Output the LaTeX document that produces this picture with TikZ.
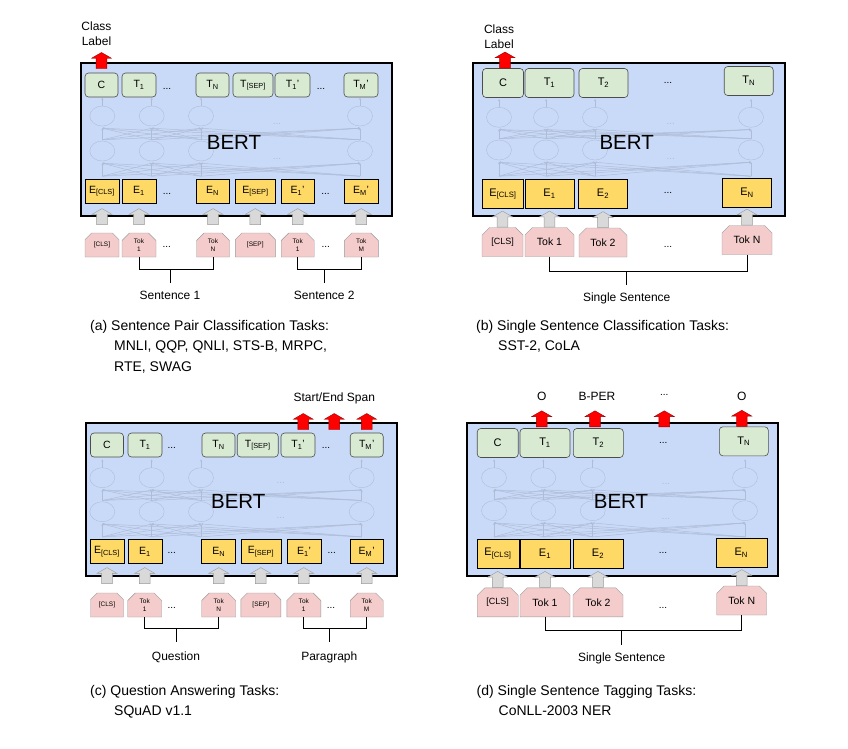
\documentclass[tikz,border=0pt]{standalone}
\usepackage{fontspec}
\setmainfont{Liberation Sans}
\usepackage{tikz}
\usetikzlibrary{positioning, arrows.meta, shapes.geometric, shapes.arrows, shapes.misc}

\definecolor{bertblue}{HTML}{C9DAF8}
\definecolor{outgreen}{HTML}{D9EAD3}
\definecolor{embyellow}{HTML}{FFD966}
\definecolor{tokpink}{HTML}{F4CCCC}
\definecolor{arrgray}{HTML}{D9D9D9}
\definecolor{netc}{HTML}{AEBCD8}

\begin{document}
\begin{tikzpicture}[
        x=1pt, y=-1pt, % pixel units, y pointing down
        >=Stealth,
        % Define node styles
        bertbox/.style={draw=black, line width=2.4pt, fill=bertblue, inner sep=0pt},
        berttext/.style={font=\fontsize{20.5}{24}\selectfont, inner sep=0pt},
        outnode/.style={draw=black!70, line width=0.6pt, fill=outgreen, rounded corners=3.5pt, minimum height=24pt, inner sep=0pt, font=\fontsize{10.5}{12}\selectfont},
        embnode/.style={draw=black, line width=0.6pt, fill=embyellow, minimum height=24pt, inner sep=0pt, font=\fontsize{10.5}{12}\selectfont},
        toknode/.style={chamfered rectangle, chamfered rectangle corners={north west,north east}, chamfered rectangle xsep=4pt, chamfered rectangle angle=45, draw=black!40, fill=tokpink, minimum height=24pt, inner sep=0pt, align=center, font=\fontsize{6.5}{7.5}\selectfont},
        tall/.style={minimum height=29pt, font=\fontsize{11}{13}\selectfont},
        uparrow/.style={single arrow, shape border rotate=90, draw=black!40, fill=arrgray, minimum height=16pt, minimum width=20pt, single arrow head extend=4.5pt, single arrow tip angle=120, inner sep=5pt},
        outarrow/.style={uparrow, draw=red!60!black, fill=red},
        dots/.style={font=\fontsize{10}{12}\selectfont, inner sep=0pt},
        lbl/.style={font=\fontsize{12}{15}\selectfont, inner sep=0pt, align=center},
        capt/.style={font=\fontsize{14}{20.5}\selectfont, inner sep=0pt, align=left, anchor=north west},
        netcirc/.style={draw=netc, ellipse, minimum width=25pt, minimum height=20pt, inner sep=0pt},
        netline/.style={draw=netc, line width=0.5pt, -{Stealth[length=2pt, width=2pt]}},
        netdots/.style={dots, text=netc},
        brkline/.style={draw=black, line width=0.8pt}
    ]
    \useasboundingbox (0,0) rectangle (848,748);

    % ================= (a) Sentence Pair Classification =================
    \node[bertbox, minimum width=311pt, minimum height=153pt] (bertA) at (236.5,139.5) {};

    % faint network
    \foreach \x [count=\i] in {102.3,151.7,201,360} {
        \node[netcirc] (aU\i) at (\x,116) {};
        \node[netcirc] (aL\i) at (\x,151) {};
    }
    \foreach \i in {1,...,4} {
        \draw[netline] (aU\i.north) -- ([yshift=8pt]aU\i.north);
        \foreach \j in {1,...,4} {
            \draw[netline] ([yshift=-15pt]aL\j.south) -- ([yshift=-2pt]aL\i.south);
            \draw[netline] ([yshift=1pt]aL\j.north) -- ([yshift=-2pt]aU\i.south);
        }
    }
    \node[netdots] (aND1) at (277,124) {...};
    \node[netdots] (aND2) at (277,159) {...};
    \node[berttext] (bertAtxt) at (234,142) {BERT};

    % outputs
    \node[outnode, minimum width=33pt] (outA_C) at (101.5,85) {C};
    \node[outnode, minimum width=34pt] (outA_1) at (139,85) {T\textsubscript{1}};
    \node[dots] (dotsA_T1) at (167,89) {...};
    \node[outnode, minimum width=33pt] (outA_N) at (212.5,85) {T\textsubscript{N}};
    \node[outnode, minimum width=40pt] (outA_S) at (253,85) {T\textsubscript{[SEP]}};
    \node[outnode, minimum width=35pt] (outA_1p) at (292.5,85) {T\textsubscript{1}'};
    \node[dots] (dotsA_T2) at (321,89) {...};
    \node[outnode, minimum width=34pt] (outA_Mp) at (361,85) {T\textsubscript{M}'};

    % embeddings
    \node[embnode, minimum width=34pt] (embA_C) at (102,191) {E\textsubscript{[CLS]}};
    \node[embnode, minimum width=34pt] (embA_1) at (139,191) {E\textsubscript{1}};
    \node[dots] (dotsA_E1) at (167,194.3) {...};
    \node[embnode, minimum width=33pt] (embA_N) at (212.5,191) {E\textsubscript{N}};
    \node[embnode, minimum width=40pt] (embA_S) at (255.5,191) {E\textsubscript{[SEP]}};
    \node[embnode, minimum width=33pt] (embA_1p) at (297.5,191) {E\textsubscript{1}'};
    \node[dots] (dotsA_E2) at (325.5,194.3) {...};
    \node[embnode, minimum width=34pt] (embA_Mp) at (361,191) {E\textsubscript{M}'};

    % input tokens
    \node[toknode, minimum width=34pt] (tokA_C) at (102,245) {[CLS]};
    \node[toknode, minimum width=34pt] (tokA_1) at (139,245) {Tok\\1};
    \node[dots] (dotsA_K1) at (166.7,247.3) {...};
    \node[toknode, minimum width=33pt] (tokA_N) at (213,245) {Tok\\N};
    \node[toknode, minimum width=40pt] (tokA_S) at (255.3,245) {[SEP]};
    \node[toknode, minimum width=33pt] (tokA_1p) at (297.7,245) {Tok\\1};
    \node[dots] (dotsA_K2) at (325.7,247.3) {...};
    \node[toknode, minimum width=34pt] (tokA_M) at (361.3,245) {Tok\\M};

    % input arrows
    \foreach \t in {C,1,N,S,1p,M}
        \node[uparrow, anchor=tail] (upA_\t) at ([yshift=8pt]tokA_\t.north) {};

    % class label
    \node[outarrow, anchor=tail] (clsA) at ([yshift=4pt]outA_C.north) {};
    \node[lbl, above=6pt of clsA.tip, xshift=-5pt] (clsAlbl) {Class\\Label};

    % sentence brackets
    \coordinate (barA1) at (170,269.3);
    \coordinate (barA2) at (324.3,269.3);
    \draw[brkline] (tokA_1.south) |- (barA1) -| (tokA_N.south);
    \draw[brkline] (tokA_1p.south) |- (barA2) -| (tokA_M.south);
    \node[lbl, below=22.1pt of barA1] (sentA1) {Sentence 1};
    \node[lbl, below=22.1pt of barA2] (sentA2) {Sentence 2};
    \draw[brkline] (barA1) -- ([yshift=8.7pt]sentA1.north);
    \draw[brkline] (barA2) -- ([yshift=8.7pt]sentA2.north);

    \node[capt] (captA) at (90,319.8) {(a) Sentence Pair Classification Tasks:\\\hspace*{24pt}MNLI, QQP, QNLI, STS-B, MRPC,\\\hspace*{24pt}RTE, SWAG};

    % ================= (b) Single Sentence Classification =================
    \node[bertbox, minimum width=312pt, minimum height=153pt] (bertB) at (629,139.5) {};

    % faint network
    \foreach \x [count=\i] in {499,546,595,751} {
        \node[netcirc] (bU\i) at (\x,117.3) {};
        \node[netcirc] (bL\i) at (\x,150) {};
    }
    \foreach \i in {1,...,4} {
        \draw[netline] (bU\i.north) -- ([yshift=8pt]bU\i.north);
        \foreach \j in {1,...,4} {
            \draw[netline] ([yshift=-16pt]bL\j.south) -- ([yshift=-2pt]bL\i.south);
            \draw[netline] ([yshift=1pt]bL\j.north) -- ([yshift=-2pt]bU\i.south);
        }
    }
    \node[netdots] (bND1) at (670.7,124) {...};
    \node[netdots] (bND2) at (670.7,159) {...};
    \node[berttext] (bertBtxt) at (626.7,142) {BERT};

    % outputs
    \node[outnode, tall, minimum width=41pt] (outB_C) at (503,83) {C};
    \node[outnode, tall, minimum width=49pt] (outB_1) at (549.5,83) {T\textsubscript{1}};
    \node[outnode, tall, minimum width=49pt] (outB_2) at (603.5,83) {T\textsubscript{2}};
    \node[dots] (dotsB_T) at (668,83) {...};
    \node[outnode, tall, minimum width=49pt] (outB_N) at (748.7,81) {T\textsubscript{N}};

    % embeddings
    \node[embnode, tall, minimum width=41pt] (embB_C) at (503,194) {E\textsubscript{[CLS]}};
    \node[embnode, tall, minimum width=49pt] (embB_1) at (549.5,194) {E\textsubscript{1}};
    \node[embnode, tall, minimum width=49pt] (embB_2) at (603,194) {E\textsubscript{2}};
    \node[dots] (dotsB_E) at (668,193.3) {...};
    \node[embnode, tall, minimum width=49pt] (embB_N) at (747,192.5) {E\textsubscript{N}};

    % input tokens
    \node[toknode, tall, minimum width=41pt, font=\fontsize{9}{11}\selectfont] (tokB_C) at (502.5,242) {[CLS]};
    \node[toknode, tall, minimum width=49pt, font=\fontsize{10.5}{12}\selectfont] (tokB_1) at (549.5,242) {Tok 1};
    \node[toknode, tall, minimum width=48pt, font=\fontsize{10.5}{12}\selectfont] (tokB_2) at (603,242.5) {Tok 2};
    \node[dots] (dotsB_K) at (668,247.3) {...};
    \node[toknode, tall, minimum width=50pt, font=\fontsize{10.5}{12}\selectfont] (tokB_N) at (747,240) {Tok N};

    % input arrows
    \foreach \t in {C,1,2,N}
        \node[uparrow, anchor=tail] (upB_\t) at (tokB_\t.north) {};

    % class label
    \node[outarrow, anchor=tail, xshift=2pt] (clsB) at (outB_C.north) {};
    \node[lbl, above=3pt of clsB.tip, xshift=-6pt] (clsBlbl) {Class\\Label};

    % sentence bracket
    \coordinate (barB) at (626.7,271.7);
    \draw[brkline] (tokB_1.south) |- (barB) -| (tokB_N.south);
    \node[lbl, below=20.7pt of barB] (sentB) {Single Sentence};
    \draw[brkline] (barB) -- ([yshift=7.4pt]sentB.north);

    \node[capt] (captB) at (476,319.8) {(b) Single Sentence Classification Tasks:\\\hspace*{22pt}SST-2, CoLA};

    % ================= (c) Question Answering =================
    \node[bertbox, minimum width=311pt, minimum height=153pt] (bertC) at (241.5,499.5) {};

    % faint network
    \foreach \x [count=\i] in {102.3,151.7,201,361.7} {
        \node[netcirc] (cU\i) at (\x,477.7) {};
        \node[netcirc] (cL\i) at (\x,511.7) {};
    }
    \foreach \i in {1,...,4} {
        \draw[netline] (cU\i.north) -- ([yshift=8pt]cU\i.north);
        \foreach \j in {1,...,4} {
            \draw[netline] ([yshift=-15pt]cL\j.south) -- ([yshift=-2pt]cL\i.south);
            \draw[netline] ([yshift=1pt]cL\j.north) -- ([yshift=-2pt]cU\i.south);
        }
    }
    \node[netdots] (cND1) at (280.7,483.3) {...};
    \node[netdots] (cND2) at (280.7,518.3) {...};
    \node[berttext] (bertCtxt) at (238.3,501.7) {BERT};

    % outputs
    \node[outnode, minimum width=33pt] (outC_C) at (107,445) {C};
    \node[outnode, minimum width=34pt] (outC_1) at (145,445) {T\textsubscript{1}};
    \node[dots] (dotsC_T1) at (171.7,448.3) {...};
    \node[outnode, minimum width=33pt] (outC_N) at (218.5,445) {T\textsubscript{N}};
    \node[outnode, minimum width=41pt] (outC_S) at (257.7,445) {T\textsubscript{[SEP]}};
    \node[outnode, minimum width=34pt] (outC_1p) at (298,445) {T\textsubscript{1}'};
    \node[dots] (dotsC_T2) at (326,448.3) {...};
    \node[outnode, minimum width=33pt] (outC_Mp) at (366.7,445) {T\textsubscript{M}'};

    % embeddings
    \node[embnode, minimum width=34pt] (embC_C) at (107,551.7) {E\textsubscript{[CLS]}};
    \node[embnode, minimum width=34pt] (embC_1) at (145,551.7) {E\textsubscript{1}};
    \node[dots] (dotsC_E1) at (171.7,553.3) {...};
    \node[embnode, minimum width=34pt] (embC_N) at (218.7,551.7) {E\textsubscript{N}};
    \node[embnode, minimum width=40pt] (embC_S) at (261,551.7) {E\textsubscript{[SEP]}};
    \node[embnode, minimum width=34pt] (embC_1p) at (304,551.7) {E\textsubscript{1}'};
    \node[dots] (dotsC_E2) at (331.7,553.3) {...};
    \node[embnode, minimum width=33pt] (embC_Mp) at (366.7,551.7) {E\textsubscript{M}'};

    % input tokens
    \node[toknode, minimum width=33pt] (tokC_C) at (107,605) {[CLS]};
    \node[toknode, minimum width=34pt] (tokC_1) at (144.7,605) {Tok\\1};
    \node[dots] (dotsC_K1) at (171.7,607.7) {...};
    \node[toknode, minimum width=34pt] (tokC_N) at (218.7,605) {Tok\\N};
    \node[toknode, minimum width=40pt] (tokC_S) at (260.8,605) {[SEP]};
    \node[toknode, minimum width=34pt] (tokC_1p) at (303.8,605) {Tok\\1};
    \node[dots] (dotsC_K2) at (331,607.7) {...};
    \node[toknode, minimum width=33pt] (tokC_M) at (366.7,605) {Tok\\M};

    % input arrows
    \foreach \t in {C,1,N,S,1p,M}
        \node[uparrow, anchor=tail] (upC_\t) at ([yshift=9pt]tokC_\t.north) {};

    % start/end span outputs
    \node[outarrow, anchor=tail] (spanC1) at ([xshift=5.3pt, yshift=3pt]outC_1p.north) {};
    \node[outarrow, anchor=tail] (spanC2) at ([xshift=31pt]spanC1.tail) {};
    \node[outarrow, anchor=tail] (spanC3) at ([xshift=32.4pt]spanC2.tail) {};
    \node[lbl, above=9.2pt of spanC2.tip] (spanClbl) {Start/End Span};

    % question / paragraph brackets
    \coordinate (barC1) at (176,628.3);
    \coordinate (barC2) at (329.3,628.3);
    \draw[brkline] (tokC_1.south) |- (barC1) -| (tokC_N.south);
    \draw[brkline] (tokC_1p.south) |- (barC2) -| (tokC_M.south);
    \node[lbl, below=22.8pt of barC1] (questC) {Question};
    \node[lbl, below=22.8pt of barC2] (paraC) {Paragraph};
    \draw[brkline] (barC1) -- ([yshift=9.4pt]questC.north);
    \draw[brkline] (barC2) -- ([yshift=9.4pt]paraC.north);

    \node[capt] (captC) at (90,684.8) {(c) Question Answering Tasks:\\\hspace*{24pt}SQuAD v1.1};

    % ================= (d) Single Sentence Tagging =================
    \node[bertbox, minimum width=311pt, minimum height=153pt] (bertD) at (622.5,499.5) {};

    % faint network
    \foreach \x [count=\i] in {494,543.3,592.7,745} {
        \node[netcirc] (dU\i) at (\x,477.7) {};
        \node[netcirc] (dL\i) at (\x,510.7) {};
    }
    \foreach \i in {1,...,4} {
        \draw[netline] (dU\i.north) -- ([yshift=8pt]dU\i.north);
        \foreach \j in {1,...,4} {
            \draw[netline] ([yshift=-16pt]dL\j.south) -- ([yshift=-2pt]dL\i.south);
            \draw[netline] ([yshift=1pt]dL\j.north) -- ([yshift=-2pt]dU\i.south);
        }
    }
    \node[netdots] (dND1) at (666,484.3) {...};
    \node[netdots] (dND2) at (666,518.7) {...};
    \node[berttext] (bertDtxt) at (621,501.7) {BERT};

    % outputs
    \node[outnode, tall, minimum width=41pt] (outD_C) at (497.7,443) {C};
    \node[outnode, tall, minimum width=50pt] (outD_1) at (545,443) {T\textsubscript{1}};
    \node[outnode, tall, minimum width=50pt] (outD_2) at (598.3,443) {T\textsubscript{2}};
    \node[dots] (dotsD_T) at (663.3,442.7) {...};
    \node[outnode, tall, minimum width=49pt] (outD_N) at (743.8,441.3) {T\textsubscript{N}};

    % embeddings
    \node[embnode, tall, minimum width=42pt] (embD_C) at (498,553.8) {E\textsubscript{[CLS]}};
    \node[embnode, tall, minimum width=50pt] (embD_1) at (545,553.8) {E\textsubscript{1}};
    \node[embnode, tall, minimum width=50pt] (embD_2) at (598,553.8) {E\textsubscript{2}};
    \node[dots] (dotsD_E) at (663,553.3) {...};
    \node[embnode, tall, minimum width=51pt] (embD_N) at (741.3,552.8) {E\textsubscript{N}};

    % input tokens
    \node[toknode, tall, minimum width=41pt, font=\fontsize{9}{11}\selectfont] (tokD_C) at (497.7,602.3) {[CLS]};
    \node[toknode, tall, minimum width=50pt, font=\fontsize{10.5}{12}\selectfont] (tokD_1) at (545,602.3) {Tok 1};
    \node[toknode, tall, minimum width=50pt, font=\fontsize{10.5}{12}\selectfont] (tokD_2) at (598,602.3) {Tok 2};
    \node[dots] (dotsD_K) at (663,607.7) {...};
    \node[toknode, tall, minimum width=50pt, font=\fontsize{10.5}{12}\selectfont] (tokD_N) at (741.7,600.5) {Tok N};

    % input arrows
    \foreach \t in {C,1,2,N}
        \node[uparrow, anchor=tail] (upD_\t) at (tokD_\t.north) {};

    % tag outputs
    \node[outarrow, anchor=tail] (tagD1) at ([xshift=-3.3pt, yshift=1.2pt]outD_1.north) {};
    \node[outarrow, anchor=tail] (tagD2) at ([xshift=-3.3pt, yshift=1.2pt]outD_2.north) {};
    \node[outarrow, anchor=tail] (tagD3) at ([xshift=69.3pt]tagD2.tail) {};
    \node[outarrow, anchor=tail] (tagD4) at ([xshift=-2pt]outD_N.north) {};
    \node[lbl, above=9.5pt of tagD1.tip] (tagD1lbl) {O};
    \node[lbl, above=9.5pt of tagD2.tip, xshift=2pt] (tagD2lbl) {B-PER};
    \node[dots, above=15pt of tagD3.tip] (tagD3lbl) {...};
    \node[lbl, above=9.5pt of tagD4.tip] (tagD4lbl) {O};

    % sentence bracket
    \coordinate (barD) at (621.7,630.7);
    \draw[brkline] (tokD_1.south) |- (barD) -| (tokD_N.south);
    \node[lbl, below=22pt of barD] (sentD) {Single Sentence};
    \draw[brkline] (barD) -- ([yshift=7.7pt]sentD.north);

    \node[capt] (captD) at (476.5,684.8) {(d) Single Sentence Tagging Tasks:\\\hspace*{22pt}CoNLL-2003 NER};

\end{tikzpicture}
\end{document}
